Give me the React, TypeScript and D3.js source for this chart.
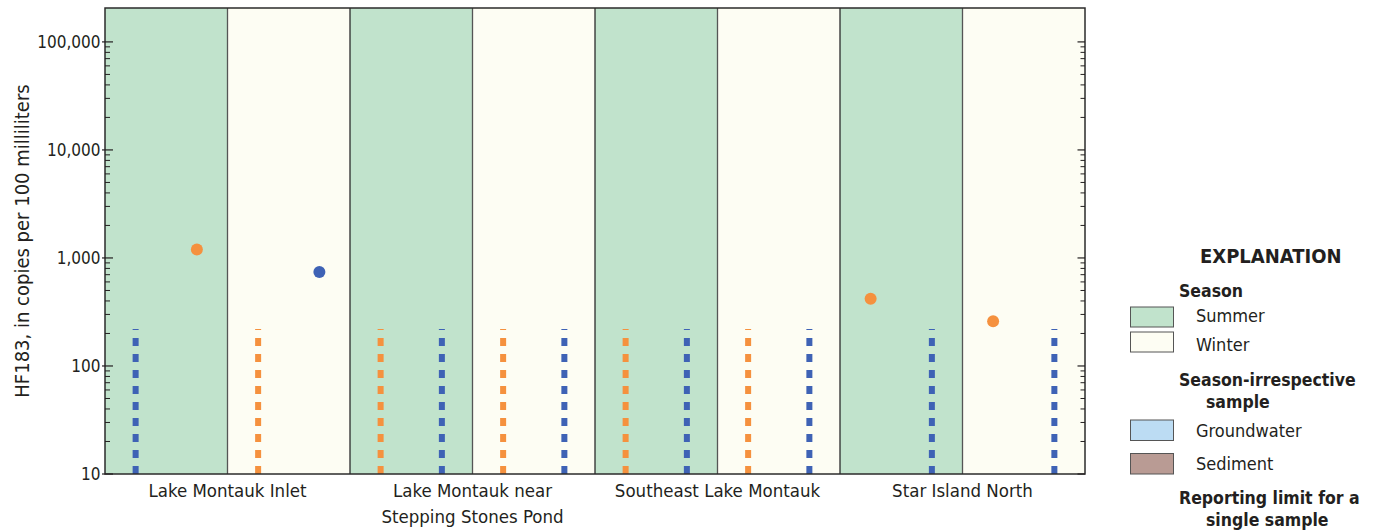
import React from "react";
import * as d3 from "d3";

// sites along the x axis, each split into a summer and a winter band
const sites = [
  "Lake Montauk Inlet",
  "Lake Montauk near Stepping Stones Pond",
  "Southeast Lake Montauk",
  "Star Island North",
];
const siteLabelLines = [
  ["Lake Montauk Inlet"],
  ["Lake Montauk near", "Stepping Stones Pond"],
  ["Southeast Lake Montauk"],
  ["Star Island North"],
];
const seasons = ["Summer", "Winter"];
const slots = ["a", "b"];

// samples: site index, season, slot in band, marker series, value (copies/100 mL), null = not detected
const sampleSite = [0, 0, 0, 0, 1, 1, 1, 1, 2, 2, 2, 2, 3, 3, 3, 3];
const sampleSeason = ["Summer", "Summer", "Winter", "Winter", "Summer", "Summer", "Winter", "Winter",
  "Summer", "Summer", "Winter", "Winter", "Summer", "Summer", "Winter", "Winter"];
const sampleSlot = ["a", "b", "a", "b", "a", "b", "a", "b", "a", "b", "a", "b", "a", "b", "a", "b"];
const sampleSeries = ["blue", "orange", "orange", "blue", "orange", "blue", "orange", "blue",
  "orange", "blue", "orange", "blue", "orange", "blue", "orange", "blue"];
const sampleValue = [null, 1200, null, 740, null, null, null, null, null, null, null, null, 420, null, 260, null];

const reportingLimit = 220;
const yTicks = [10, 100, 1000, 10000, 100000];
const yMin = 10;
const yMax = 206000;

const seasonFill: Record<string, string> = { Summer: "#c1e3cc", Winter: "#fdfdf3" };
const seriesColor: Record<string, string> = { orange: "#f5913e", blue: "#3e62b5" };

const legendSeason = ["Summer", "Winter"];
const legendSample = ["Groundwater", "Sediment"];
const legendSampleFill = ["#bcdcf3", "#b99b94"];

const W = 1390;
const H = 531;
const plot = { left: 105, right: 1085, top: 8, bottom: 474 };
const font = "'DejaVu Sans Condensed', 'DejaVu Sans', sans-serif";
const ink = "#231f20";

const App = () => {
  const x = d3.scaleBand().domain(sites).range([plot.left, plot.right]);
  const xSeason = d3.scaleBand().domain(seasons).range([0, x.bandwidth()]);
  const xSlot = d3.scaleBand().domain(slots).range([0, xSeason.bandwidth()]);
  const y = d3.scaleLog().domain([yMin, yMax]).range([plot.bottom, plot.top]);

  const minorTicks: number[] = [];
  for (let d = 10; d < 100000; d *= 10) {
    for (let m = 2; m <= 9; m++) minorTicks.push(d * m);
  }

  const sampleX = (i: number) =>
    (x(sites[sampleSite[i]]) as number) +
    (xSeason(sampleSeason[i]) as number) +
    (xSlot(sampleSlot[i]) as number) +
    xSlot.bandwidth() / 2;

  const bands = sites.flatMap((s) => seasons.map((se) => ({ s, se })));

  return (
    <svg width={W} height={H} style={{ position: "absolute", left: 0, top: 0 }} fontFamily={font}>
      {bands.map((b, i) => (
        <rect
          key={i}
          x={(x(b.s) as number) + (xSeason(b.se) as number)}
          y={plot.top}
          width={xSeason.bandwidth()}
          height={plot.bottom - plot.top}
          fill={seasonFill[b.se]}
        />
      ))}
      {bands.slice(1).map((b, i) => {
        const bx = (x(b.s) as number) + (xSeason(b.se) as number);
        return (
          <line key={i} x1={bx} x2={bx} y1={plot.top} y2={plot.bottom}
            stroke={b.se === "Summer" ? "#2b2b2b" : "#555"} strokeWidth={1.3} />
        );
      })}

      {/* reporting-limit lines for non-detects */}
      {sampleValue.map((v, i) =>
        v === null ? (
          <line key={"nd" + i} x1={sampleX(i)} x2={sampleX(i)} y1={y(yMin)} y2={y(reportingLimit)}
            stroke={seriesColor[sampleSeries[i]]} strokeWidth={6} strokeDasharray="8 8" />
        ) : null
      )}
      {sampleValue.map((v, i) =>
        v !== null ? (
          <circle key={"d" + i} cx={sampleX(i)} cy={y(v)} r={6} fill={seriesColor[sampleSeries[i]]} />
        ) : null
      )}

      <rect x={plot.left} y={plot.top} width={plot.right - plot.left} height={plot.bottom - plot.top}
        fill="none" stroke="#2b2b2b" strokeWidth={1.5} />

      {/* y ticks, left and right */}
      {yTicks.map((t) => (
        <g key={t}>
          <line x1={plot.left - 3} x2={plot.left + 8} y1={y(t)} y2={y(t)} stroke={ink} strokeWidth={1.2} />
          <line x1={plot.right - 7.5} x2={plot.right} y1={y(t)} y2={y(t)} stroke={ink} strokeWidth={1.2} />
          <text x={plot.left - 4.5} y={y(t)} dy="0.36em" textAnchor="end" fontSize={17} fill={ink}>
            {d3.format(",")(t)}
          </text>
        </g>
      ))}
      {minorTicks.map((t) => (
        <g key={"m" + t}>
          <line x1={plot.left} x2={plot.left + 5} y1={y(t)} y2={y(t)} stroke={ink} strokeWidth={1} />
          <line x1={plot.right - 4.5} x2={plot.right} y1={y(t)} y2={y(t)} stroke={ink} strokeWidth={1} />
        </g>
      ))}

      <text transform={`translate(29,${(plot.top + plot.bottom) / 2}) rotate(-90)`} textAnchor="middle"
        fontSize={20} fill={ink}>
        HF183, in copies per 100 milliliters
      </text>

      {/* site labels */}
      {sites.map((s, i) => (
        <text key={s} x={(x(s) as number) + x.bandwidth() / 2} y={497} textAnchor="middle" fontSize={18.5} fill={ink}>
          {siteLabelLines[i].map((l, j) => (
            <tspan key={j} x={(x(s) as number) + x.bandwidth() / 2} dy={j === 0 ? 0 : 26}>{l}</tspan>
          ))}
        </text>
      ))}

      {/* explanation */}
      <g fill={ink}>
        <text x={1200} y={263} fontSize={20} fontWeight="bold">EXPLANATION</text>
        <text x={1179} y={297} fontSize={17.5} fontWeight="bold">Season</text>
        {legendSeason.map((s, i) => (
          <g key={s}>
            <rect x={1130.5} y={307 + i * 25} width={43} height={20} fill={seasonFill[s]} stroke="#555" strokeWidth={1} />
            <text x={1196} y={322 + i * 28.5} fontSize={18}>{s}</text>
          </g>
        ))}
        <text x={1179} y={386} fontSize={17.5} fontWeight="bold">Season-irrespective</text>
        <text x={1206} y={408} fontSize={17.5} fontWeight="bold">sample</text>
        {legendSample.map((s, i) => (
          <g key={s}>
            <rect x={1130.5} y={420 + i * 33.5} width={43} height={20.5} fill={legendSampleFill[i]} stroke="#555" strokeWidth={1} />
            <text x={1196} y={437 + i * 33} fontSize={18}>{s}</text>
          </g>
        ))}
        <text x={1179} y={504} fontSize={17.5} fontWeight="bold">Reporting limit for a</text>
        <text x={1206} y={526} fontSize={17.5} fontWeight="bold">single sample</text>
      </g>
    </svg>
  );
};

export default App;
